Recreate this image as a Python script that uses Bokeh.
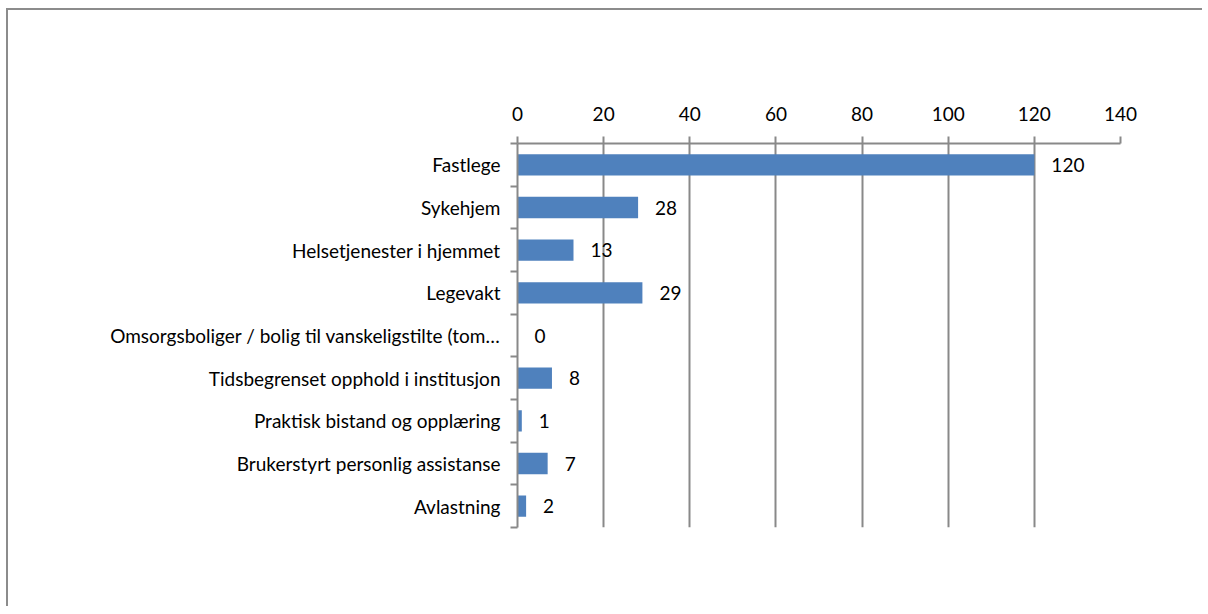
from bokeh.plotting import figure
from bokeh.models import Range1d, FixedTicker, ColumnDataSource
from bokeh.core.properties import value
from bokeh.embed import file_html
from bokeh.resources import INLINE

categories = [
    "Fastlege",
    "Sykehjem",
    "Helsetjenester i hjemmet",
    "Legevakt",
    "Omsorgsboliger / bolig til vanskeligstilte (tom…",
    "Tidsbegrenset opphold i institusjon",
    "Praktisk bistand og opplæring",
    "Brukerstyrt personlig assistanse",
    "Avlastning",
]
values = [120, 28, 13, 29, 0, 8, 1, 7, 2]
x_ticks = [0, 20, 40, 60, 80, 100, 120, 140]

FONT = "Lato"
FS = "19px"
GRID = "#898989"

n = len(categories)
centers = [i + 0.5 for i in range(n)]
src = ColumnDataSource(dict(y=centers, v=values, lab=[str(v) for v in values]))

p = figure(width=1196, height=598, output_backend="svg", toolbar_location=None,
           x_range=Range1d(0, 140), y_range=Range1d(n, 0),
           x_axis_location="above",
           min_border_left=509, min_border_right=84,
           min_border_top=133, min_border_bottom=81)
p.styles = {"margin-left": "6px", "margin-top": "8px",
            "border-left": "2px solid #8c8c8c", "border-top": "2px solid #8c8c8c"}
p.outline_line_color = None
p.background_fill_color = "white"
p.border_fill_color = "white"

p.hbar(y="y", right="v", left=0, height=0.5, source=src,
       fill_color="#4F81BD", line_color=None)
p.text(x="v", y="y", text="lab", source=src, x_offset=17,
       text_baseline="middle", text_align="left",
       text_font=value(FONT), text_font_size=FS, text_color="black")

xa = p.xaxis[0]
xa.ticker = FixedTicker(ticks=x_ticks)
xa.axis_line_color = GRID
xa.axis_line_width = 2
xa.major_tick_line_color = GRID
xa.major_tick_line_width = 2
xa.major_tick_out = 7
xa.major_tick_in = 0
xa.minor_tick_line_color = None
xa.major_label_standoff = 16
xa.major_label_text_font = FONT
xa.major_label_text_font_size = FS
xa.major_label_text_color = "black"

ya = p.yaxis[0]
ya.ticker = FixedTicker(ticks=centers, minor_ticks=list(range(n + 1)))
ya.major_label_overrides = {c: lab for c, lab in zip(centers, categories)}
ya.axis_line_color = GRID
ya.axis_line_width = 2
ya.major_tick_line_color = None
ya.major_tick_out = 0
ya.major_tick_in = 0
ya.minor_tick_line_color = GRID
ya.minor_tick_line_width = 2
ya.minor_tick_out = 7
ya.minor_tick_in = 0
ya.major_label_standoff = 10
ya.major_label_text_font = FONT
ya.major_label_text_font_size = FS
ya.major_label_text_color = "black"

p.xgrid.ticker = FixedTicker(ticks=x_ticks)
p.xgrid.grid_line_color = GRID
p.xgrid.grid_line_width = 2
p.ygrid.grid_line_color = None

open("out.html", "w").write(file_html(p, INLINE))
